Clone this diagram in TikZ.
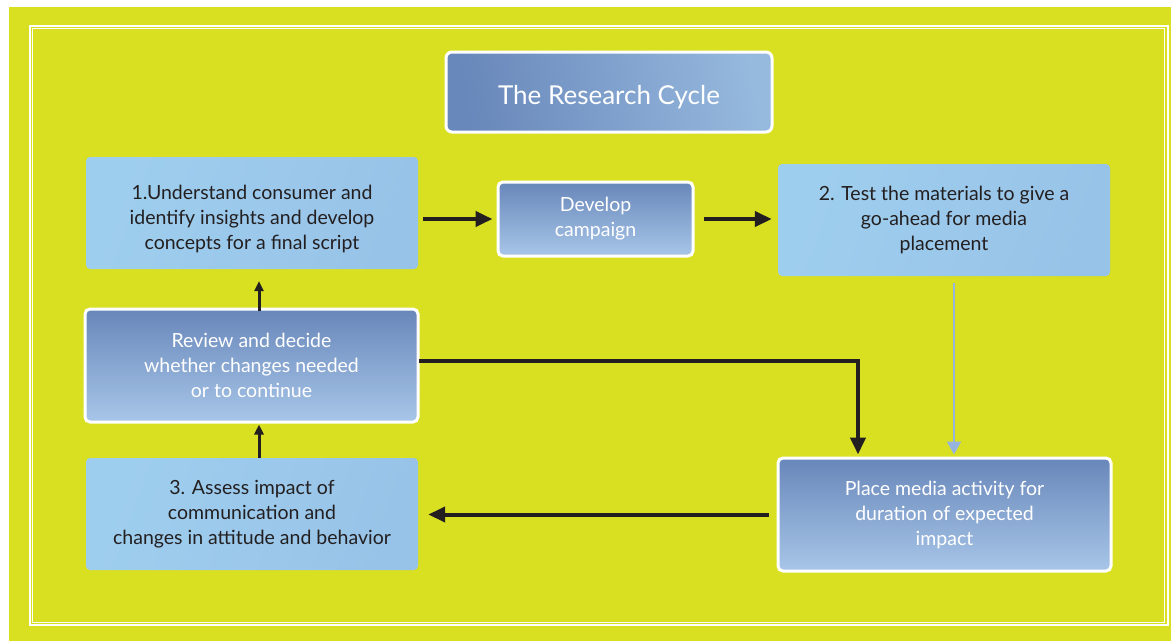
\documentclass[tikz,border=0pt]{standalone}
\usepackage{fontspec}
\setmainfont{Lato}
\usetikzlibrary{arrows.meta,calc}
\definecolor{bgyellow}{RGB}{217,224,34}
\definecolor{darktop}{RGB}{104,135,186}
\definecolor{darkmid}{RGB}{110,142,192}
\definecolor{darkbot}{RGB}{168,198,232}
\definecolor{titleR}{RGB}{150,185,222}
\definecolor{lightA}{RGB}{158,206,238}
\definecolor{lightB}{RGB}{172,224,247}
\definecolor{lightC}{RGB}{152,195,232}
\definecolor{txtdark}{RGB}{35,31,32}
\definecolor{thinblue}{RGB}{150,180,222}
\tikzset{
  boxbase/.style={draw=white, line width=3pt, text=white, align=center, inner sep=0pt},
  lightbox/.style={rounded corners=4pt, left color=lightA, middle color=lightB, right color=lightC,
    shading angle=70, text=txtdark, align=center, inner sep=0pt,
    font=\fontsize{19.5}{25}\selectfont},
  darkbox/.style={boxbase, rounded corners=5pt, top color=darktop, middle color=darkmid, bottom color=darkbot,
    font=\fontsize{19.5}{25}\selectfont},
  titlebox/.style={boxbase, rounded corners=6pt, left color=darktop, middle color=darktop!85!titleR, right color=titleR,
    shading angle=100, font=\fontsize{26}{30}\selectfont},
  bigarrow/.style={draw=txtdark, line width=4pt, -{Triangle[length=17pt,width=15pt]}},
  smallarrow/.style={draw=txtdark, line width=3pt, -{Triangle[length=10pt,width=9pt]}},
  bluearrow/.style={draw=thinblue, line width=2pt, -{Triangle[length=13pt,width=14pt]}},
}
\begin{document}
\begin{tikzpicture}[x=1pt,y=-1pt]
\useasboundingbox (0,0) rectangle (1171,641);
\fill[white] (0,0) rectangle (1171,641);
\fill[bgyellow] (9,7) rectangle (1171,641);
\draw[white, line width=2pt] (30,26) rectangle (1167.5,625);
\draw[white, line width=1pt] (32.5,28.5) rectangle (1164.5,622.5);

\node[titlebox, minimum width=326pt, minimum height=80pt] (title) at (609,92)
  {\raisebox{-5pt}[\height][\depth]{The Research Cycle}};

\node[lightbox, minimum width=332pt, minimum height=112pt] (s1) at (252,213)
  {\raisebox{-6pt}[\height][\depth]{\begin{tabular}{@{}c@{}}1.Understand consumer and\\identify insights and develop\\concepts for a final script\end{tabular}}};
\node[darkbox, minimum width=195pt, minimum height=74pt] (dev) at (595.5,219) {Develop\\campaign};
\node[lightbox, minimum width=332pt, minimum height=112pt] (s2) at (944,220)
  {2. Test the materials to give a\\go-ahead for media\\placement};
\node[darkbox, minimum width=333pt, minimum height=113pt] (rev) at (251.5,365.5)
  {Review and decide\\whether changes needed\\or to continue};
\node[lightbox, minimum width=332pt, minimum height=112pt] (s3) at (252,514)
  {3. Assess impact of\\communication and\\changes in attitude and behavior};
\node[darkbox, minimum width=333pt, minimum height=113pt] (place) at (944.5,514.5)
  {Place media activity for\\duration of expected\\impact};

\coordinate (c1) at (858,361);
\coordinate (c2) at (954,0);
\coordinate (c3) at (259,0);

\draw[bigarrow] ([xshift=5pt]s1.east |- dev.west) -- ([xshift=-4pt]dev.west);
\draw[bigarrow] ([xshift=9pt]dev.east) -- ([xshift=-6pt]dev.east -| s2.west);
\draw[bluearrow] ([yshift=-7pt]s2.south -| c2) -- ([yshift=2pt]place.north -| c2);
\draw[bigarrow] ([xshift=-1pt]rev.east |- c1) -| ([yshift=2pt]place.north -| c1);
\draw[bigarrow] ([xshift=-8pt]place.west) -- ([xshift=10pt]place.west -| s3.east);
\draw[smallarrow] (s3.north -| c3) -- ([yshift=-1pt]rev.south -| c3);
\draw[smallarrow] ([yshift=-3pt]rev.north -| c3) -- ([yshift=-12pt]s1.south -| c3);
\end{tikzpicture}
\end{document}
